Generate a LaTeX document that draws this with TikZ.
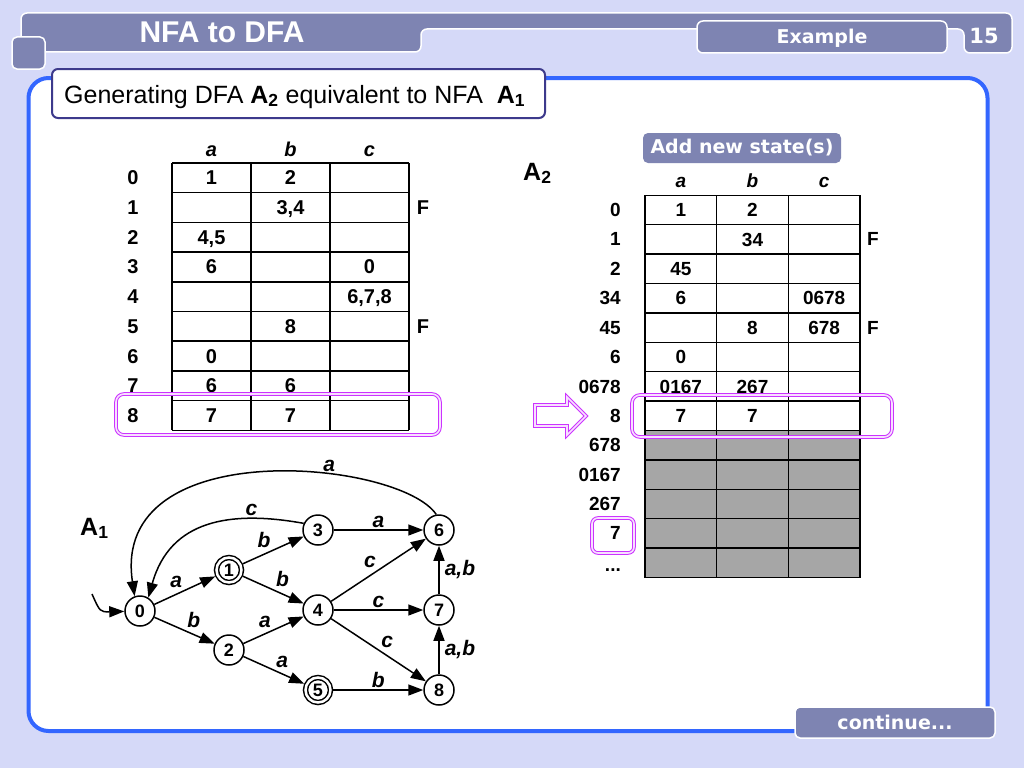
\documentclass[tikz,border=0pt]{standalone}
\usepackage{fontspec}
\setmainfont{Liberation Sans}
\newfontfamily\boxfont{DejaVu Sans}
\usetikzlibrary{arrows.meta}
\usetikzlibrary{positioning}
\definecolor{slidebg}{HTML}{D5D9F8}
\definecolor{barblue}{HTML}{7E84B2}
\definecolor{panelblue}{HTML}{3366FF}
\definecolor{titleedge}{HTML}{3D3A8C}
\definecolor{hilite}{HTML}{CC33FF}
\definecolor{cellgray}{HTML}{A6A6A6}
\newcommand{\fsz}[1]{\fontsize{#1pt}{#1pt}\selectfont}
\tikzset{state/.style={circle,draw,fill=white,line width=1.5pt,minimum size=30pt,inner sep=0pt,font=\fsz{18}\bfseries},
         final/.style={double,double distance=2.5pt,minimum size=25pt,outer sep=2.75pt},
         trans/.style={-{Triangle[length=15pt,width=11pt]},line width=1.5pt},
         lbl/.style={font=\fsz{21}\bfseries\itshape,inner sep=2pt},
         cell/.style={font=\fsz{20}\bfseries,inner sep=0pt,text depth=0pt},
         cellr/.style={font=\fsz{19}\bfseries,inner sep=0pt,text depth=0pt},
         colhead/.style={font=\fsz{20}\bfseries\itshape,anchor=base,inner sep=0pt},
         hibox/.style={draw=hilite,double=hilite!15,double distance=1.6pt,line width=1pt,rounded corners=8pt},
         tabbox/.style={fill=barblue,draw=white,line width=1.5pt,rounded corners=6pt},
         tabtext/.style={text=white,font=\boxfont\bfseries,anchor=base,inner sep=0pt},
         }
\begin{document}
\begin{tikzpicture}[x=1pt,y=-1pt]
\useasboundingbox (0,0) rectangle (1024,768);
\fill[slidebg] (0,0) rectangle (1024,768);
\draw[tabbox] (21,52) -- (21,13) -- (1012,13) -- (1012,53) -- (964,53) -- (964,29) -- (421,29) -- (421,52) -- cycle;
\draw[tabbox,rounded corners=5pt] (12,37) rectangle (45,69);
\draw[tabbox] (697,21) rectangle (947,53);
\node[tabtext,font=\bfseries\fsz{30}] (title) at (222,43) {NFA to DFA};
\node[tabtext,font=\boxfont\bfseries\fsz{19}] (example) at (822,44) {Example};
\node[tabtext,font=\boxfont\bfseries\fsz{21}] (page) at (984,44) {15};
\draw[fill=white,draw=panelblue,line width=4pt,rounded corners=20pt] (28.5,78) rectangle (987.5,731);
\draw[fill=white,draw=titleedge,line width=2pt,rounded corners=6pt] (52,69) rectangle (545,118);
\node[anchor=base west,inner sep=0pt,font=\fsz{25}] (heading) at (64,103)
  {Generating DFA \textbf{A\textsubscript{2}} equivalent to NFA~~\textbf{A\textsubscript{1}}};
\draw[tabbox,rounded corners=5pt] (795,707) rectangle (995,738);
\node[tabtext,font=\boxfont\bfseries\fsz{19}] (more) at (895,729) {continue...};

\foreach \i in {0,...,9}
  \draw[line width=1.5pt] (172,{163+29.7*\i}) -- (409,{163+29.7*\i});
\foreach \x in {172,251,330,409}
  \draw[line width=1.5pt] (\x,163) -- (\x,430.3);
\foreach \c/\t in {1/a,2/b,3/c}
  \node[colhead] (Lhead\c) at ({172+79*(\c-0.5)},156) {\t};
\foreach \r in {0,...,8}
  \node[cell] (Lrow\r) at (133,{163+29.7*(\r+0.5)}) {\r};
\foreach \r/\c/\t in {0/1/1,0/2/2,1/2/{3,4},2/1/{4,5},3/1/6,3/3/0,4/3/{6,7,8},5/2/8,6/1/0,7/1/6,7/2/6,8/1/7,8/2/7}
  \node[cell] (L\r\c) at ({172+79*(\c-0.5)},{163+29.7*(\r+0.5)}) {\t};
\foreach \r in {1,5}
  \node[cell] (LF\r) at (423,{163+29.7*(\r+0.5)}) {F};

\node[tabtext,font=\boxfont\bfseries\fsz{19},fill=barblue,rounded corners=5pt,minimum width=198pt,minimum height=30pt,anchor=center] (addnew) at (742,148) {Add new state(s)};
\node[anchor=base west,inner sep=0pt,font=\fsz{25}\bfseries] (Atwo) at (523,180) {A\textsubscript{2}};
\fill[cellgray] (645,{195.3+29.4*8}) rectangle (860,{195.3+29.4*13});
\foreach \i in {0,...,13}
  \draw[line width=1.5pt] (645,{195.3+29.4*\i}) -- (860,{195.3+29.4*\i});
\foreach \x in {645,716.7,788.3,860}
  \draw[line width=1.5pt] (\x,195.3) -- (\x,{195.3+29.4*13});
\foreach \c/\t in {1/a,2/b,3/c}
  \node[colhead,font=\fsz{19}\bfseries\itshape] (Rhead\c) at ({645+71.67*(\c-0.5)},187) {\t};
\foreach \r/\t in {0/0,1/1,2/2,3/34,4/45,5/6,6/0678,7/8,8/678,9/0167,10/267,11/7}
  \node[cellr,anchor=east] (Rrow\r) at (621,{195.3+29.4*(\r+0.5)}) {\t};
\node[cellr,anchor=base east] (Rdots) at (621,571) {...};
\foreach \r/\c/\t in {0/1/1,0/2/2,1/2/34,2/1/45,3/1/6,3/3/0678,4/2/8,4/3/678,5/1/0,6/1/0167,6/2/267,7/1/7,7/2/7}
  \node[cellr] (R\r\c) at ({645+71.67*(\c-0.5)},{195.3+29.4*(\r+0.5)}) {\t};
\foreach \r in {1,4}
  \node[cellr] (RF\r) at (873,{195.3+29.4*(\r+0.5)}) {F};

\draw[hibox] (116,394) rectangle (440,435);
\draw[hibox] (632,395) rectangle (892,437);
\draw[hibox,rounded corners=6pt] (592,518) rectangle (634,553);
\draw[hibox,rounded corners=0pt] (535,405) -- (567,405) -- (567,397) -- (586,416) -- (567,435) -- (567,426) -- (535,426) -- cycle;

\node[anchor=base west,inner sep=0pt,font=\fsz{25}\bfseries] (Aone) at (80,535) {A\textsubscript{1}};
\node[state] (s0) at (140,611) {0};
\node[state,final] (s1) at (229,570) {1};
\node[state] (s2) at (229,650) {2};
\node[state] (s3) at (318,530) {3};
\node[state] (s4) at (318,610) {4};
\node[state,final] (s5) at (318,690) {5};
\node[state] (s6) at (439,530) {6};
\node[state] (s7) at (439,610) {7};
\node[state] (s8) at (439,690) {8};
\coordinate (init) at (92,594);
\draw[trans] (init) .. controls (100,612) .. (s0);
\draw[trans] (s0) -- node[lbl,auto=left]{a} (s1);
\draw[trans] (s0) -- node[lbl,auto=left]{b} (s2);
\draw[trans] (s1) -- node[lbl,auto=left]{b} (s3);
\draw[trans] (s1) -- node[lbl,auto=left]{b} (s4);
\draw[trans] (s2) -- node[lbl,auto=left]{a} (s4);
\draw[trans] (s2) -- node[lbl,auto=left]{a} (s5);
\draw[trans] (s3) -- node[lbl,auto=left]{a} (s6);
\draw[trans] (s4) -- node[lbl,auto=left]{c} (s6);
\draw[trans] (s4) -- node[lbl,auto=left]{c} (s7);
\draw[trans] (s4) -- node[lbl,auto=left]{c} (s8);
\draw[trans] (s5) -- node[lbl,auto=left]{b} (s8);
\draw[trans] (s7) -- node[lbl,auto=right,inner sep=5pt]{a,b} (s6);
\draw[trans] (s8) -- node[lbl,auto=right,inner sep=5pt]{a,b} (s7);
\draw[trans] (s3.155) .. controls (230,510) and (170,520) .. node[lbl,pos=0.25,above]{c} (s0.58);
\draw[trans] (s6.100) .. controls (400,460) and (110,432) .. node[lbl,pos=0.35,above]{a} (s0.110);
\end{tikzpicture}
\end{document}
